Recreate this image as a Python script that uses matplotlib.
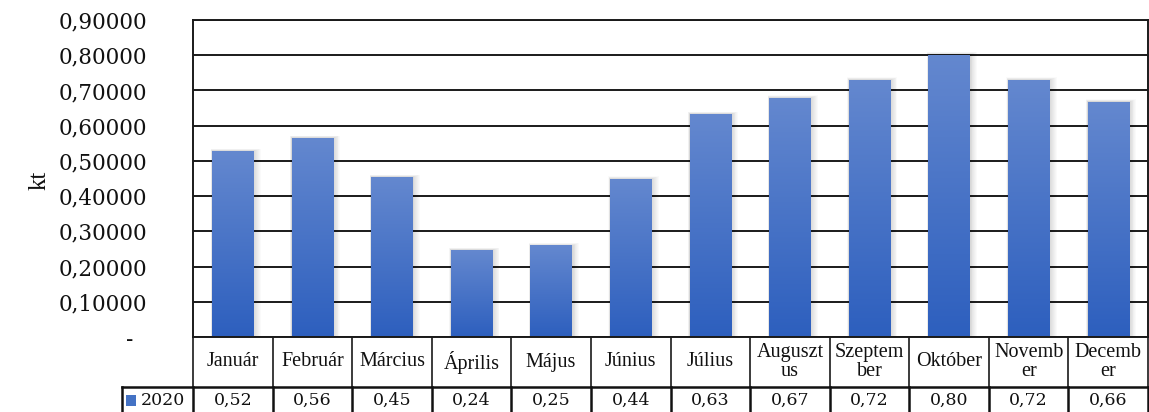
import matplotlib
matplotlib.use('Agg')
import matplotlib.pyplot as plt
import numpy as np
from matplotlib.patches import Rectangle
from matplotlib.colors import LinearSegmentedColormap
from matplotlib.ticker import FuncFormatter

# ---------------- data ----------------
month_labels = ["Január", "Február", "Március", "Április", "Május", "Június",
                "Július", "Auguszt\nus", "Szeptem\nber", "Október",
                "Novemb\ner", "Decemb\ner"]
values_2020 = [0.528, 0.565, 0.454, 0.247, 0.260, 0.449,
               0.633, 0.679, 0.730, 0.802, 0.730, 0.668]
table_labels = ["0,52", "0,56", "0,45", "0,24", "0,25", "0,44",
                "0,63", "0,67", "0,72", "0,80", "0,72", "0,66"]
series_name = "2020"
y_ticks = [0.0, 0.1, 0.2, 0.3, 0.4, 0.5, 0.6, 0.7, 0.8, 0.9]
y_label = "kt"

# ---------------- layout ----------------
W, H = 1149, 412
fig = plt.figure(figsize=(W / 100, H / 100), dpi=100)
L, R, T, B = 193, 1148, 20, 337
ax = fig.add_axes([L / W, (H - B) / H, (R - L) / W, (B - T) / H])
n = len(values_2020)
x = np.arange(n)
px_x = (R - L) / n          # pixels per category
px_y = (B - T) / 0.9        # pixels per unit

bars = ax.bar(x, values_2020, width=0.52, color='none', zorder=3)
cmap = LinearSegmentedColormap.from_list('g', ['#2D5FBE', '#6488CF'])
grad = np.linspace(0, 1, 256).reshape(-1, 1)
for b in bars:
    x0, w, h = b.get_x(), b.get_width(), b.get_height()
    # soft shadow
    for s in np.linspace(8, 1, 8):
        ax.add_patch(Rectangle((x0 - 0.2 * s / px_x, 0), w + 1.1 * s / px_x,
                               h + 0.3 * s / px_y, facecolor='black',
                               alpha=0.02, lw=0, zorder=2.5))
    im = ax.imshow(grad, extent=[x0, x0 + w, 0, h], origin='lower',
                   cmap=cmap, aspect='auto', zorder=3, interpolation='bilinear')
    im.set_clip_path(b)

ax.set_xlim(-0.5, n - 0.5)
ax.set_ylim(0, 0.9)
ax.set_xticks([])
ax.set_yticks(y_ticks)
ax.yaxis.set_major_formatter(FuncFormatter(
    lambda v, p: "-  " if abs(v) < 1e-9 else f"{v:.5f}".replace('.', ',')))
ax.tick_params(axis='y', length=0, pad=33)
for lab in ax.get_yticklabels():
    lab.set_fontfamily('DejaVu Serif')
    lab.set_fontsize(15.5)
    lab.set_color('#111111')
ax.grid(axis='y', color='#1a1a1a', lw=1.4, zorder=1)
for sp in ax.spines.values():
    sp.set_color('#1a1a1a')
    sp.set_linewidth(1.4)
ax.spines['bottom'].set_visible(False)

fig.text(40 / W, 1 - 180 / H, y_label, rotation=90, ha='center', va='center',
         fontfamily='Liberation Serif', fontsize=18, color='#111111')

# ---------------- data table ----------------
TL = 122
tab = fig.add_axes([TL / W, 0, (R - TL) / W, (H - B) / H])
xl = -0.5 - (L - TL) / px_x
tab.set_xlim(xl, n - 0.5)
tab.set_ylim(0, H - B)
tab.axis('off')
row_split = H - 387
top = H - B

tab.plot([-0.5, n - 0.5], [top, top], color='#1a1a1a', lw=1.4, clip_on=False)
tab.plot([xl, n - 0.5], [row_split, row_split], color='#111111', lw=1.8, clip_on=False)
for i in range(n + 1):
    xb = -0.5 + i
    tab.plot([xb, xb], [row_split, top], color='#1a1a1a', lw=1.2, clip_on=False)
    tab.plot([xb, xb], [0, row_split], color='#111111', lw=1.8, clip_on=False)
tab.plot([xl, xl], [0, row_split], color='#111111', lw=1.8, clip_on=False)

for i in range(n):
    tab.text(i, (row_split + top) / 2, month_labels[i], ha='center', va='center',
             fontfamily='Liberation Serif', fontsize=14.5, linespacing=1.0,
             color='#111111')
    tab.text(i, row_split / 2 - 1, table_labels[i], ha='center', va='center',
             fontfamily='DejaVu Serif', fontsize=12.5, color='#111111')

tab.add_patch(Rectangle((xl + 4 / px_x, row_split / 2 - 6), 10 / px_x, 11,
                        facecolor='#4472C4', lw=0, clip_on=False))
tab.text(xl + 19 / px_x, row_split / 2 - 1, series_name, ha='left', va='center',
         fontfamily='DejaVu Serif', fontsize=12.5, color='#111111')

fig.savefig('out.png', dpi=100)
